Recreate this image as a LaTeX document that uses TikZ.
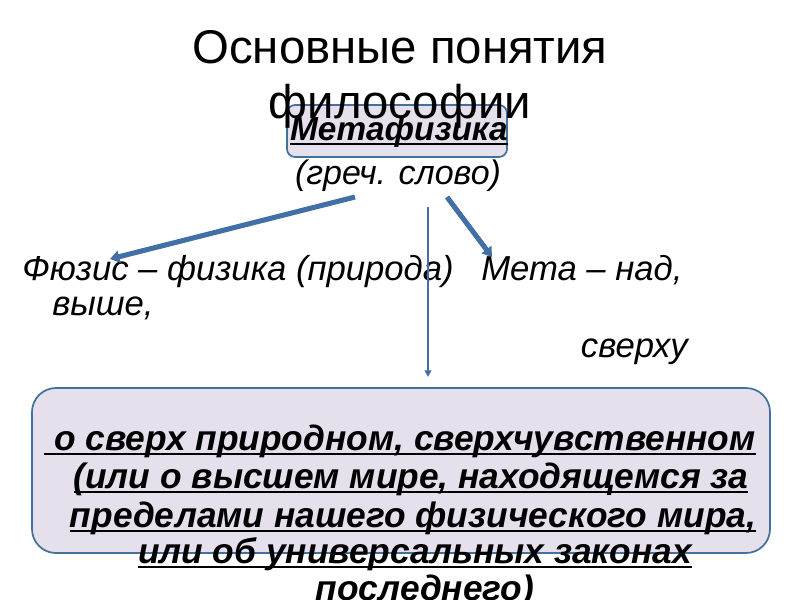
\documentclass[tikz,border=0pt]{standalone}
\usepackage{fontspec}
\setmainfont{Liberation Sans}
\usetikzlibrary{arrows.meta}
\definecolor{boxfill}{RGB}{229,224,236}
\definecolor{boxline}{RGB}{65,113,156}
\definecolor{arrowc}{RGB}{66,112,166}
\newcommand\myul[1]{\setbox0=\hbox{#1}\rlap{\rule[-3.6pt]{\wd0}{1.4pt}}\box0}
\begin{document}
\begin{tikzpicture}[x=0.75pt,y=-0.75pt,
  titletext/.style={anchor=base,inner sep=0pt,font=\fontsize{35.5}{40}\selectfont},
  itext/.style={anchor=base west,inner sep=0pt,font=\fontsize{26}{30}\itshape},
  bodytext/.style={anchor=base,inner sep=0pt,font=\fontsize{26.5}{30}\bfseries\itshape},
  roundbox/.style={draw=boxline,fill=boxfill,line width=1.3pt},
  thickarrow/.style={draw=arrowc,line width=3.8pt,-{Triangle[length=7pt,width=9pt]}},
  thinarrow/.style={draw=arrowc,line width=1.5pt,-{Triangle[length=5pt,width=5pt]}}]
\useasboundingbox (0,0) rectangle (800,600);
\clip (0,0) rectangle (800,600);
\fill[white] (0,0) rectangle (800,600);
% Metaphysics box
\path[roundbox,rounded corners=6pt] (287,105) rectangle (507,157);
% title
\node[titletext] (title1) at (400,63) {Основные понятия};
\node[titletext] (title2) at (400,118) {философии};
\node[anchor=base,inner sep=0pt,font=\fontsize{25}{28}\selectfont\bfseries\itshape] (meta) at (399,140) {\myul{Метафизика}};
\node[anchor=base,inner sep=0pt,font=\fontsize{25.5}{28}\selectfont\itshape] (greek) at (398,184) {(греч. слово)};
% labels
\node[itext] (fuzis) at (22,280) {Фюзис – физика (природа)};
\node[itext] (metanad) at (481,280) {Мета – над,};
\node[itext] (vyshe) at (52,315) {выше,};
\node[itext,anchor=base east] (sverhu) at (688,357) {сверху};
% coordinates for arrows
\coordinate (a1s) at (355,197);
\coordinate (a1e) at (110,259);
\coordinate (a2s) at (447,197);
\coordinate (a2e) at (492,257);
\coordinate (a3s) at (428,207);
\coordinate (a3e) at (428,377);
\draw[thickarrow] (a1s) -- (a1e);
\draw[thickarrow] (a2s) -- (a2e);
\draw[thinarrow] (a3s) -- (a3e);
% bottom box
\path[roundbox,rounded corners=18pt] (32,388) rectangle (770,553);
\node[bodytext] (l1) at (400,450) {\myul{\ о сверх природном, сверхчувственном}};
\node[bodytext] (l2) at (411,488) {\myul{(или о высшем мире, находящемся за}};
\node[bodytext] (l3) at (413,527) {\myul{пределами нашего физического мира,}};
\node[bodytext] (l4) at (415,563) {\myul{или об универсальных законах}};
\node[bodytext] (l5) at (425,600) {\myul{последнего)}};
\end{tikzpicture}
\end{document}
